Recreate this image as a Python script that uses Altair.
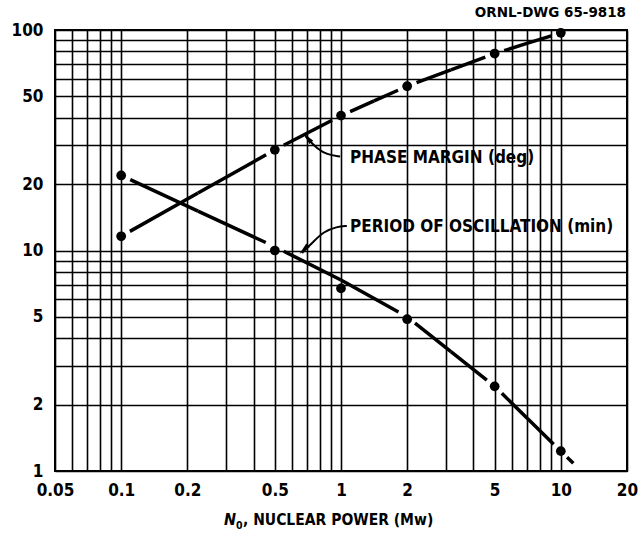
import math
import altair as alt
import pandas as pd

# Measured operating points: nuclear power (Mw) vs. phase margin (deg) and period (min)
power = [0.1, 0.5, 1, 2, 5, 10]
phase_margin = [11.6, 28.6, 40.9, 55.6, 78.2, 97.1]
period = [21.9, 10.0, 6.73, 4.88, 2.42, 1.23]

# Faired curves through the points; True marks a node where the curve is broken around a dot
pm_curve_x = [0.1, 0.5, 1, 2, 5, 10]
pm_curve_y = [11.6, 28.6, 40.9, 55.6, 78.2, 97.1]
pm_curve_break = [True, True, True, True, True, True]
per_curve_x = [0.1, 0.5, 1, 2, 5, 10, 11.4]
per_curve_y = [21.9, 10.4, 7.35, 5.0, 2.42, 1.23, 1.085]
per_curve_break = [True, True, False, True, True, True, False]

# Leader lines from the labels to the curves
pm_leader_x = [0.991, 0.862, 0.777, 0.724, 0.69]
pm_leader_y = [26.7, 27.2, 29.1, 31.2, 33.0]
per_leader_x = [1.063, 0.958, 0.832, 0.749, 0.665]
per_leader_y = [12.92, 12.83, 12.17, 10.96, 9.75]
arrow_x = [0.703, 0.677]
arrow_y = [32.5, 10.1]
arrow_angle = [320, 225]

label_text = ["PHASE MARGIN (deg)", "PERIOD OF OSCILLATION (min)"]
label_x = [1.10, 1.10]
label_y = [26.3, 12.72]

x_grid = [0.05, 0.06, 0.07, 0.08, 0.09, 0.1, 0.2, 0.3, 0.4, 0.5, 0.6, 0.7, 0.8, 0.9,
          1, 2, 3, 4, 5, 6, 7, 8, 9, 10, 20]
x_labels = [0.05, 0.1, 0.2, 0.5, 1, 2, 5, 10, 20]
y_grid = [1, 2, 3, 4, 5, 6, 7, 8, 9, 10, 20, 30, 40, 50, 60, 70, 80, 90, 100]
y_labels = [1, 2, 5, 10, 20, 50, 100]

FONT = "DejaVu Sans Condensed, DejaVu Sans"
FONT_WIDE = "DejaVu Sans"


def broken_segments(xs, ys, breaks, name):
    """Split a curve into half-pieces running from each anchor node toward the
    middle of its piece, so a dash pattern can leave a gap at the dots."""
    rows = []
    anchors = [i for i, b in enumerate(breaks) if b or i in (0, len(xs) - 1)]
    seg = 0
    for a, b in zip(anchors[:-1], anchors[1:]):
        interior = list(range(a + 1, b))
        if interior:
            mid = interior[len(interior) // 2]
            first = [(xs[k], ys[k]) for k in range(a, mid + 1)]
            second = [(xs[k], ys[k]) for k in range(b, mid - 1, -1)]
        else:
            mx, my = math.sqrt(xs[a] * xs[b]), math.sqrt(ys[a] * ys[b])
            first = [(xs[a], ys[a]), (mx, my)]
            second = [(xs[b], ys[b]), (mx, my)]
        for start, pts in ((a, first), (b, second)):
            dash = "gap" if breaks[start] else "solid"
            for o, (px, py) in enumerate(pts):
                rows.append({"seg": f"{name}{seg}", "ord": o, "x": px, "y": py, "dash": dash})
            seg += 1
    return rows


curve_df = pd.DataFrame(
    broken_segments(pm_curve_x, pm_curve_y, pm_curve_break, "pm")
    + broken_segments(per_curve_x, per_curve_y, per_curve_break, "per")
)
points_df = pd.DataFrame({"x": power + power, "y": phase_margin + period})
leader_df = pd.DataFrame(
    [{"g": "pm", "ord": i, "x": x, "y": y} for i, (x, y) in enumerate(zip(pm_leader_x, pm_leader_y))]
    + [{"g": "per", "ord": i, "x": x, "y": y} for i, (x, y) in enumerate(zip(per_leader_x, per_leader_y))]
)
arrow_df = pd.DataFrame({"x": arrow_x, "y": arrow_y, "angle": arrow_angle})
label_df = pd.DataFrame({"x": label_x, "y": label_y, "text": label_text})


def label_expr(vals):
    return "indexof([" + ",".join(str(v) for v in vals) + "], datum.value) >= 0 ? format(datum.value, '~g') : ''"


x_axis = alt.Axis(
    values=x_grid, labelExpr=label_expr(x_labels), grid=True, ticks=False, domain=False,
    labelFlush=False, labelOverlap=False, labelPadding=11, labelFont=FONT, labelFontSize=17,
    labelFontWeight="bold", labelColor="black", title=None,
)
y_axis = alt.Axis(
    values=y_grid, labelExpr=label_expr(y_labels), grid=True, ticks=False, domain=False,
    labelOverlap=False, labelPadding=12, labelFont=FONT, labelFontSize=17,
    labelFontWeight="bold", labelColor="black", title=None,
)
x_scale = alt.Scale(type="log", domain=[0.05, 20], nice=False)
y_scale = alt.Scale(type="log", domain=[1, 100], nice=False)


def X():
    return alt.X("x:Q", scale=x_scale, axis=x_axis)


def Y():
    return alt.Y("y:Q", scale=y_scale, axis=y_axis)


curves = alt.Chart(curve_df).mark_line(color="black", strokeWidth=3.5, strokeCap="butt").encode(
    x=X(), y=Y(), detail="seg:N", order="ord:Q",
    strokeDash=alt.StrokeDash(
        "dash:N",
        scale=alt.Scale(domain=["gap", "solid"], range=[[0, 10, 3000, 0], [3000, 1]]),
        legend=None,
    ),
)
dots = alt.Chart(points_df).mark_circle(color="black", size=95, opacity=1).encode(x=X(), y=Y())
leaders = alt.Chart(leader_df).mark_line(color="black", strokeWidth=2, interpolate="basis").encode(
    x=X(), y=Y(), detail="g:N", order="ord:Q"
)
arrows = alt.Chart(arrow_df).mark_point(
    shape="M0,-1L0.42,1L-0.42,1Z", filled=True, color="black", size=150, opacity=1
).encode(x=X(), y=Y(), angle=alt.Angle("angle:Q", scale=None))
labels = alt.Chart(label_df).mark_text(
    align="left", baseline="middle", font=FONT, fontSize=17, fontWeight="bold", color="black"
).encode(x=X(), y=Y(), text="text:N")

# Drawing number above the top-right corner of the plot
drawing_no = alt.Chart(pd.DataFrame({"t": ["ORNL-DWG 65-9818"]})).mark_text(
    align="right", baseline="middle", font=FONT_WIDE, fontSize=13.5, fontWeight="bold", color="black"
).encode(x=alt.value(571), y=alt.value(-17), text="t:N")

# x-axis title: italic N with a subscript zero, then the rest of the caption
one_row = pd.DataFrame({"t": [""]})
title_n = alt.Chart(one_row).mark_text(
    align="left", baseline="alphabetic", font=FONT, fontWeight="bold", fontStyle="italic",
    fontSize=16, color="black", text="N"
).encode(x=alt.value(169), y=alt.value(495))
title_sub = alt.Chart(one_row).mark_text(
    align="left", baseline="alphabetic", font=FONT, fontWeight="bold",
    fontSize=10.5, color="black", text="0"
).encode(x=alt.value(181), y=alt.value(499))
title_rest = alt.Chart(one_row).mark_text(
    align="left", baseline="alphabetic", font=FONT, fontWeight="bold",
    fontSize=15.5, color="black", text=", NUCLEAR POWER (Mw)"
).encode(x=alt.value(188), y=alt.value(495))

chart = (
    alt.layer(curves, dots, leaders, arrows, labels, drawing_no, title_n, title_sub, title_rest)
    .properties(width=572, height=441, autosize="none",
                padding={"left": 55, "top": 30, "right": 13, "bottom": 64})
    .configure_view(stroke="black", strokeWidth=2)
    .configure_axis(gridColor="black", gridWidth=1.6, gridOpacity=1)
)

chart.save("out.html", embed_options={"renderer": "svg", "actions": False})
